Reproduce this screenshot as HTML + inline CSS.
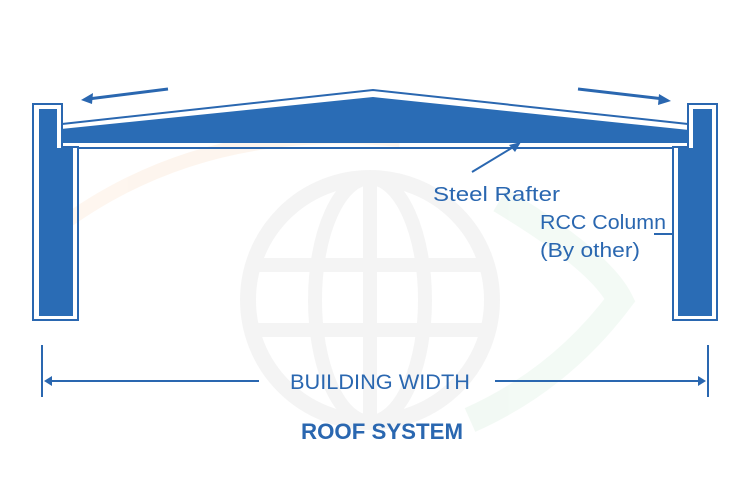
<!DOCTYPE html>
<html><head><meta charset="utf-8"><style>
html,body{margin:0;padding:0;background:#fff;}
svg{display:block;}
text{font-family:"Liberation Sans",sans-serif;fill:#2a67b0;}
</style></head><body>
<svg width="750" height="500" viewBox="0 0 750 500" xmlns="http://www.w3.org/2000/svg">
<g opacity="0.6">
<circle cx="370" cy="300" r="122" fill="none" stroke="#eeeeee" stroke-width="16"/>
<ellipse cx="370" cy="300" rx="55" ry="122" fill="none" stroke="#eeeeee" stroke-width="14"/>
<line x1="370" y1="178" x2="370" y2="422" stroke="#eeeeee" stroke-width="14"/>
<line x1="250" y1="265" x2="490" y2="265" stroke="#eeeeee" stroke-width="14"/>
<line x1="250" y1="330" x2="490" y2="330" stroke="#eeeeee" stroke-width="14"/>
<path d="M55 230 Q200 120 400 140" fill="none" stroke="#fdf0e4" stroke-width="14"/>
<path d="M500 200 Q600 260 620 300 Q560 380 470 420" fill="none" stroke="#ebf6ee" stroke-width="26"/>
</g>
<path d="M33 104 H62 V147 H78 V320 H33 Z" fill="none" stroke="#2a67b0" stroke-width="2"/>
<path d="M39 109 H57 V148 H73 V316 H39 Z" fill="#2a6cb5"/>
<path d="M717 104 H688 V147 H673 V320 H717 Z" fill="none" stroke="#2a67b0" stroke-width="2"/>
<path d="M712 109 H693 V148 H678 V316 H712 Z" fill="#2a6cb5"/>
<polyline points="62,124 373,90 688,124" fill="none" stroke="#2a67b0" stroke-width="2"/>
<line x1="78" y1="148" x2="673" y2="148" stroke="#2a67b0" stroke-width="2"/>
<polygon points="61,129 373,97 689,130 689,143 61,143" fill="#2a6cb5"/>
<line x1="168" y1="89" x2="88" y2="99" stroke="#2a67b0" stroke-width="3"/>
<polygon points="81,100 93,93 92,104" fill="#2a67b0"/>
<line x1="578" y1="89" x2="664" y2="99" stroke="#2a67b0" stroke-width="3"/>
<polygon points="671,101 659,94 658,105" fill="#2a67b0"/>
<line x1="472" y1="172" x2="515" y2="146" stroke="#2a67b0" stroke-width="2"/>
<polygon points="521,142 509,145 515,152" fill="#2a67b0"/>
<text x="433" y="201" font-size="20" textLength="127" lengthAdjust="spacingAndGlyphs">Steel Rafter</text>
<text x="540" y="229" font-size="20" textLength="126" lengthAdjust="spacingAndGlyphs">RCC Column</text>
<text x="540" y="257" font-size="20" textLength="100" lengthAdjust="spacingAndGlyphs">(By other)</text>
<line x1="654" y1="234" x2="673" y2="234" stroke="#2a67b0" stroke-width="2"/>
<line x1="42" y1="345" x2="42" y2="397" stroke="#2a67b0" stroke-width="2"/>
<line x1="708" y1="345" x2="708" y2="397" stroke="#2a67b0" stroke-width="2"/>
<line x1="48" y1="381" x2="259" y2="381" stroke="#2a67b0" stroke-width="2"/>
<polygon points="44,381 52,376 52,386" fill="#2a67b0"/>
<line x1="495" y1="381" x2="702" y2="381" stroke="#2a67b0" stroke-width="2"/>
<polygon points="706,381 698,376 698,386" fill="#2a67b0"/>
<text x="380" y="389" font-size="21" text-anchor="middle" textLength="180" lengthAdjust="spacingAndGlyphs">BUILDING WIDTH</text>
<text x="382" y="439" font-size="22" font-weight="bold" text-anchor="middle" textLength="162" lengthAdjust="spacingAndGlyphs">ROOF SYSTEM</text>
</svg>
</body></html>
